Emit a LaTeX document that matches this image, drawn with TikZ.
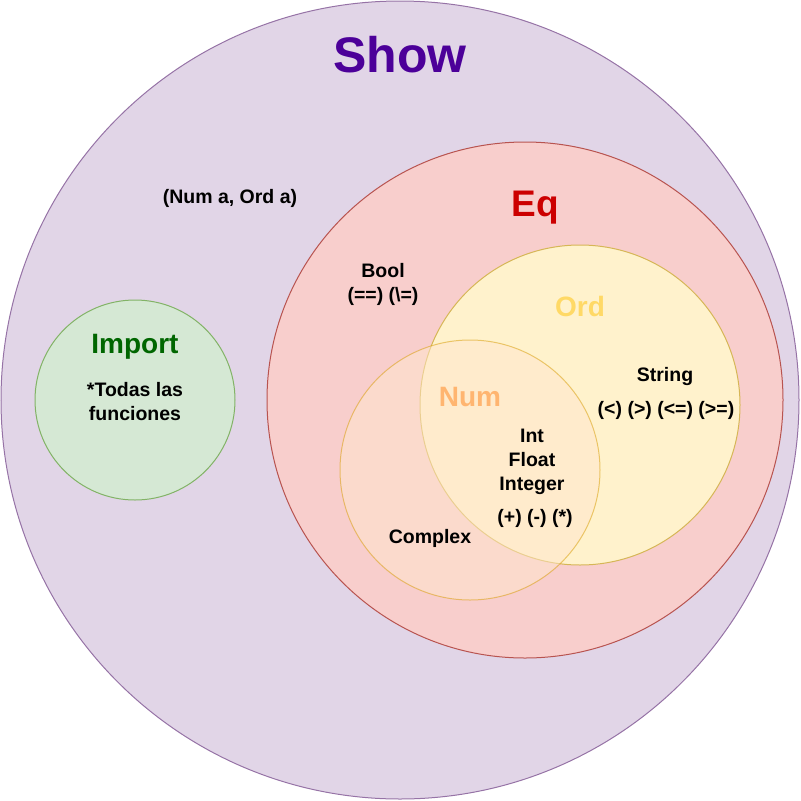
\documentclass[tikz,border=0pt]{standalone}
\usepackage{fontspec}
\setmainfont{Liberation Sans}
\definecolor{showfill}{HTML}{E1D5E7}
\definecolor{showline}{HTML}{9673A6}
\definecolor{showtext}{HTML}{4C0099}
\definecolor{eqfill}{HTML}{F8CECC}
\definecolor{eqline}{HTML}{B85450}
\definecolor{eqtext}{HTML}{CC0000}
\definecolor{ordfill}{HTML}{FFF2CC}
\definecolor{ordline}{HTML}{D6B656}
\definecolor{ordtext}{HTML}{FFD966}
\definecolor{numfill}{HTML}{FFE6CC}
\definecolor{numline}{HTML}{D79B00}
\definecolor{numtext}{HTML}{FFB570}
\definecolor{impfill}{HTML}{D5E8D4}
\definecolor{impline}{HTML}{82B366}
\definecolor{imptext}{HTML}{006600}
\begin{document}
\begin{tikzpicture}[x=1pt,y=-1pt,line width=1pt,
		set/.style={circle,inner sep=0pt,minimum size=#1},
		title/.style={font=\bfseries\fontsize{#1}{#1}\selectfont},
		txt/.style={font=\bfseries\fontsize{19.5}{24}\selectfont,align=center}]
	\useasboundingbox (0,0) rectangle (801,801);
	% the classes
	\node[set=798pt,draw=showline,fill=showfill] (show) at (400,400) {};
	\node[set=200pt,draw=impline,fill=impfill] (import) at (135,400) {};
	\node[set=516pt,draw=eqline,fill=eqfill] (eq) at (525,400) {};
	\node[set=320pt,draw=ordline,fill=ordfill] (ord) at (580,405) {};
	\node[set=260pt,draw=numline,draw opacity=0.5,fill=numfill,fill opacity=0.5] (num) at (470,470) {};
	% titles
	\node[title=50,text=showtext] (showname) at (400,55) {Show};
	\node[title=37,text=eqtext] (eqname) at (535,208) {Eq};
	\node[title=28,text=ordtext] (ordname) at (580,306) {Ord};
	\node[title=28,text=numtext] (numname) at (470,397) {Num};
	\node[title=28,text=imptext] (importname) at (135,347) {Import};
	% members
	\node[txt] (ctx) at (230,198) {(Num a, Ord a)};
	\node[txt] (bool) at (383,284) {Bool\\(==) (\textbackslash=)};
	\node[txt] (string) at (665,376) {String};
	\node[txt] (ordops) at (666,410) {(<) (>) (<=) (>=)};
	\node[txt] (ints) at (532,462) {Int\\Float\\Integer};
	\node[txt] (numops) at (535,518) {(+) (-) (*)};
	\node[txt] (complex) at (430,538) {Complex};
	\node[txt] (funcs) at (135,402) {*Todas las\\funciones};
\end{tikzpicture}
\end{document}
